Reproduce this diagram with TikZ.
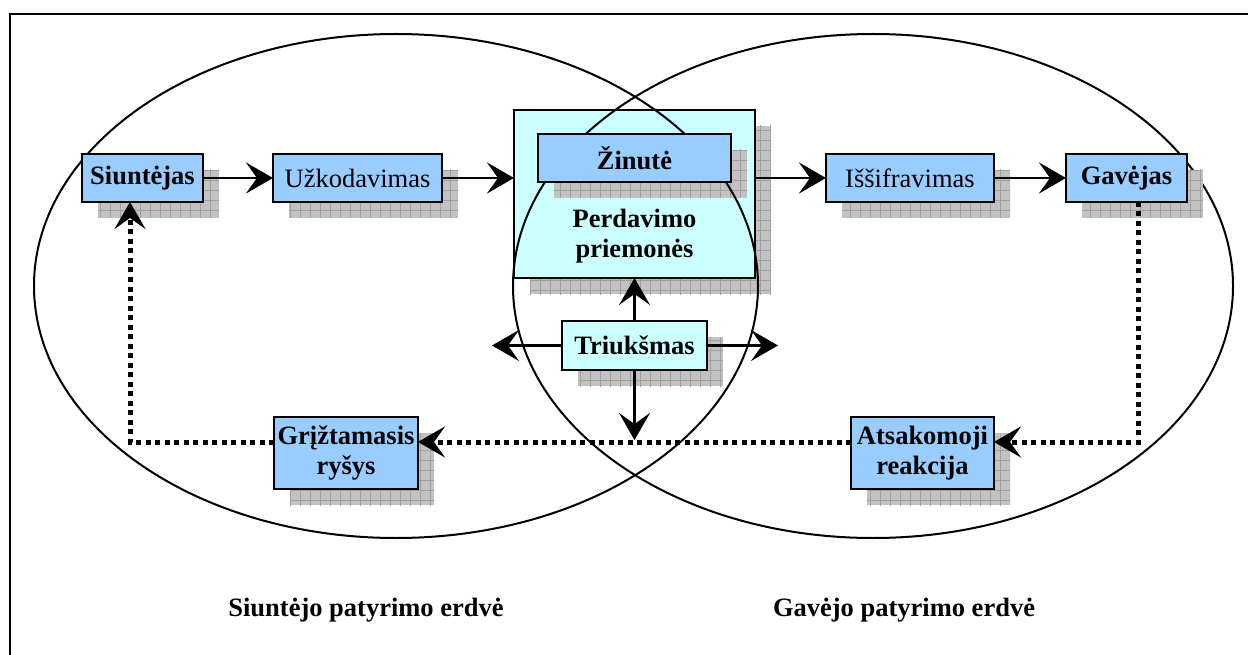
\documentclass[tikz,border=0pt]{standalone}
\usepackage{fontspec}
\setmainfont{Liberation Serif}
\usetikzlibrary{arrows.meta,calc}

\pgfdeclarelayer{base}
\pgfdeclarelayer{rings}
\pgfdeclarelayer{shade}
\pgfsetlayers{base,rings,shade,main}

\definecolor{boxblue}{HTML}{99CCFF}
\definecolor{boxcyan}{HTML}{CCFFFF}
\definecolor{shadefill}{HTML}{C2C2C2}
\definecolor{shadegrid}{HTML}{A0A0A0}

\tikzset{
  every node/.style={inner sep=0pt, outer sep=0pt},
  lbl/.style={font=\fontsize{26.5}{30}\selectfont, align=center},
  blockbox/.style={lbl, draw, line width=2.2pt, fill=boxblue},
  noisebox/.style={lbl, draw, line width=2.2pt, fill=boxcyan},
  tip/.style={-{Stealth[length=27pt, width=31pt, inset=11pt]}},
  flow/.style={tip, line width=2.7pt},
  loopline/.style={tip, line width=5pt, dash pattern=on 5pt off 4.5pt},
  ring/.style={line width=2pt},
}

% grey hatched drop shadow behind a node, offset down and right
\newcommand\dropshadow[1]{%
  \begin{scope}
    \clip ($(#1.north west)+(16,16)$) rectangle ($(#1.south east)+(16,16)$);
    \fill[shadefill] ($(#1.north west)+(16,16)$) rectangle ($(#1.south east)+(16,16)$);
    \draw[shadegrid, line width=0.6pt, step=10pt]
      ($(#1.south west)+(16,26)$) grid ($(#1.north east)+(26,6)$);
  \end{scope}}

\begin{document}
\begin{tikzpicture}[x=1pt, y=-1pt]
  \useasboundingbox (0,0) rectangle (1248,655);
  \clip (0,0) rectangle (1248,655);

  % page frame
  \draw[line width=1.8pt] (10,14) rectangle (1265,675);

  % transmission channel with the message on it
  \begin{pgfonlayer}{base}
    \node[draw, line width=2pt, fill=boxcyan, minimum width=241pt, minimum height=168pt]
      (channel) at (634.5,194) {};
  \end{pgfonlayer}
  \node[blockbox, font=\fontsize{26.5}{30}\selectfont\bfseries,
        minimum width=193pt, minimum height=48pt] (message) at (634.5,158) {Žinutė};
  \node[lbl, font=\fontsize{26.5}{30}\selectfont\bfseries] (medium) at (634.5,236)
    {Perdavimo\\priemonės};

  % sender side
  \node[blockbox, font=\fontsize{26.5}{30}\selectfont\bfseries,
        minimum width=121pt, minimum height=48pt] (sender) at (142.5,178) {Siuntėjas};
  \node[blockbox, minimum width=169pt, minimum height=48pt] (encode) at (357.5,178) {Užkodavimas};
  \node[blockbox, font=\fontsize{26.5}{30}\selectfont\bfseries,
        minimum width=144pt, minimum height=72pt] (feedback) at (346,453) {Grįžtamasis\\ryšys};

  % receiver side
  \node[blockbox, minimum width=168pt, minimum height=48pt] (decode) at (910,178) {Iššifravimas};
  \node[blockbox, font=\fontsize{26.5}{30}\selectfont\bfseries,
        minimum width=121pt, minimum height=48pt] (receiver) at (1126.5,178) {Gavėjas};
  \node[blockbox, font=\fontsize{26.5}{30}\selectfont\bfseries,
        minimum width=143pt, minimum height=72pt] (response) at (922.5,453) {Atsakomoji\\reakcija};

  % noise
  \node[noisebox, font=\fontsize{26.5}{30}\selectfont\bfseries,
        minimum width=145pt, minimum height=49pt] (noise) at (634.5,345.5) {Triukšmas};

  % experience fields
  \node[lbl, font=\fontsize{26.5}{30}\selectfont\bfseries] (senderfield) at (366,610)
    {Siuntėjo patyrimo erdvė};
  \node[lbl, font=\fontsize{26.5}{30}\selectfont\bfseries] (receiverfield) at (904,610)
    {Gavėjo patyrimo erdvė};

  % shadows
  \begin{pgfonlayer}{base}
    \dropshadow{channel}
    \fill[boxcyan] (channel.north west) rectangle (channel.south east);
    \draw[line width=2pt] (channel.north west) rectangle (channel.south east);
    \dropshadow{message}
  \end{pgfonlayer}
  \begin{pgfonlayer}{shade}
    \dropshadow{sender}
    \dropshadow{encode}
    \dropshadow{decode}
    \dropshadow{receiver}
    \dropshadow{feedback}
    \dropshadow{response}
    \dropshadow{noise}
  \end{pgfonlayer}

  % overlapping fields of experience
  \begin{pgfonlayer}{rings}
    \draw[ring] (396,286) ellipse [x radius=362pt, y radius=252pt];
    \draw[ring] (873,286) ellipse [x radius=360pt, y radius=252pt];
  \end{pgfonlayer}

  % main flow
  \draw[flow] (sender) -- (encode);
  \draw[flow] (encode.east) -- (encode.east -| channel.west);
  \draw[flow] (decode.west -| channel.east) -- (decode.west);
  \draw[flow] (decode) -- (receiver);

  % noise acting on the channel
  \coordinate (noiseL) at (492,345.5);
  \coordinate (noiseR) at (778,345.5);
  \coordinate (noiseD) at (634.5,440);
  \draw[flow] (noise.north) -- (noise.north |- channel.south);
  \draw[flow] (noise.west) -- (noiseL);
  \draw[flow] (noise.east) -- (noiseR);
  \draw[flow] (noise.south) -- (noiseD);

  % response and feedback loop
  \coordinate (rin) at ($(response.east)+(0,-11)$);
  \coordinate (fin) at ($(feedback.east)+(0,-11)$);
  \draw[loopline] ($(receiver.south)+(11.5,0)$) |- (rin);
  \draw[loopline] (response.west |- rin) -- (fin);
  \draw[loopline] (feedback.west |- fin) -| ($(sender.south)+(-12.5,0)$);
\end{tikzpicture}
\end{document}
